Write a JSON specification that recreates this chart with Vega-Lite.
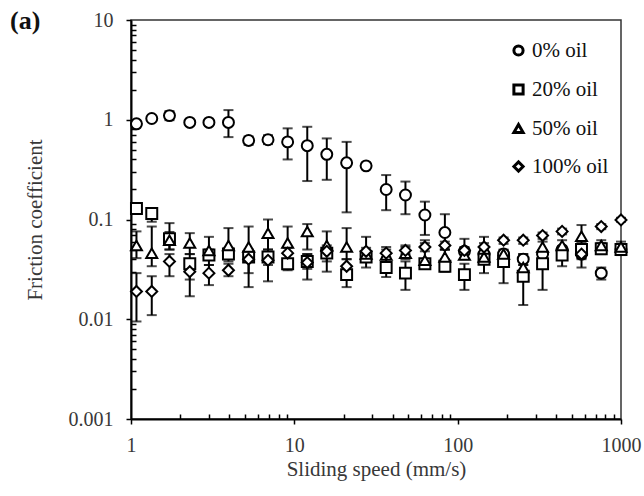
{
  "$schema": "https://vega.github.io/schema/vega-lite/v6.json",
  "width": 490,
  "height": 399,
  "autosize": {"type": "none"},
  "padding": {"left": 131, "top": 20, "right": 23, "bottom": 77},
  "background": "white",
  "config": {"view": {"stroke": "#333", "strokeWidth": 1.5}, "font": "Liberation Serif"},
  "title": {"text": "(a)", "anchor": "start", "frame": "group", "dx": -121, "offset": -24, "fontSize": 26, "fontWeight": "bold", "font": "Liberation Serif", "color": "#111"},
  "data": {"values": [
    {"speed": 1.08, "series": "0% oil", "cof": 0.91, "lo": 0.88, "hi": 0.95},
    {"speed": 1.34, "series": "0% oil", "cof": 1.03, "lo": 1.0, "hi": 1.07},
    {"speed": 1.72, "series": "0% oil", "cof": 1.1, "lo": 0.99, "hi": 1.22},
    {"speed": 2.29, "series": "0% oil", "cof": 0.94, "lo": 0.92, "hi": 0.96},
    {"speed": 3.0, "series": "0% oil", "cof": 0.94, "lo": 0.92, "hi": 0.96},
    {"speed": 3.95, "series": "0% oil", "cof": 0.94, "lo": 0.67, "hi": 1.25},
    {"speed": 5.25, "series": "0% oil", "cof": 0.62, "lo": 0.56, "hi": 0.68},
    {"speed": 6.9, "series": "0% oil", "cof": 0.63, "lo": 0.57, "hi": 0.7},
    {"speed": 9.1, "series": "0% oil", "cof": 0.6, "lo": 0.4, "hi": 0.82},
    {"speed": 12.0, "series": "0% oil", "cof": 0.55, "lo": 0.243, "hi": 0.85},
    {"speed": 15.8, "series": "0% oil", "cof": 0.45, "lo": 0.25, "hi": 0.65},
    {"speed": 20.9, "series": "0% oil", "cof": 0.37, "lo": 0.118, "hi": 0.6},
    {"speed": 27.5, "series": "0% oil", "cof": 0.345, "lo": 0.33, "hi": 0.36},
    {"speed": 36.5, "series": "0% oil", "cof": 0.2, "lo": 0.124, "hi": 0.279},
    {"speed": 47.9, "series": "0% oil", "cof": 0.176, "lo": 0.113, "hi": 0.24},
    {"speed": 63, "series": "0% oil", "cof": 0.111, "lo": 0.07, "hi": 0.151},
    {"speed": 83.5, "series": "0% oil", "cof": 0.074, "lo": 0.05, "hi": 0.113},
    {"speed": 110, "series": "0% oil", "cof": 0.048, "lo": 0.045, "hi": 0.052},
    {"speed": 145, "series": "0% oil", "cof": 0.045, "lo": 0.04, "hi": 0.05},
    {"speed": 191, "series": "0% oil", "cof": 0.045, "lo": 0.041, "hi": 0.049},
    {"speed": 252, "series": "0% oil", "cof": 0.04, "lo": 0.035, "hi": 0.045},
    {"speed": 331, "series": "0% oil", "cof": 0.045, "lo": 0.041, "hi": 0.049},
    {"speed": 436, "series": "0% oil", "cof": 0.05, "lo": 0.046, "hi": 0.054},
    {"speed": 573, "series": "0% oil", "cof": 0.045, "lo": 0.041, "hi": 0.049},
    {"speed": 757, "series": "0% oil", "cof": 0.029, "lo": 0.025, "hi": 0.033},
    {"speed": 1000, "series": "0% oil", "cof": 0.05, "lo": 0.046, "hi": 0.054},
    {"speed": 1.08, "series": "20% oil", "cof": 0.129, "lo": 0.115, "hi": 0.14},
    {"speed": 1.34, "series": "20% oil", "cof": 0.115, "lo": 0.095, "hi": 0.12},
    {"speed": 1.72, "series": "20% oil", "cof": 0.064, "lo": 0.05, "hi": 0.075},
    {"speed": 2.29, "series": "20% oil", "cof": 0.036, "lo": 0.017, "hi": 0.045},
    {"speed": 3.0, "series": "20% oil", "cof": 0.044, "lo": 0.035, "hi": 0.05},
    {"speed": 3.95, "series": "20% oil", "cof": 0.045, "lo": 0.038, "hi": 0.052},
    {"speed": 5.25, "series": "20% oil", "cof": 0.042, "lo": 0.029, "hi": 0.05},
    {"speed": 6.9, "series": "20% oil", "cof": 0.042, "lo": 0.035, "hi": 0.05},
    {"speed": 9.1, "series": "20% oil", "cof": 0.036, "lo": 0.031, "hi": 0.045},
    {"speed": 12.0, "series": "20% oil", "cof": 0.038, "lo": 0.032, "hi": 0.045},
    {"speed": 15.8, "series": "20% oil", "cof": 0.046, "lo": 0.038, "hi": 0.052},
    {"speed": 20.9, "series": "20% oil", "cof": 0.028, "lo": 0.021, "hi": 0.034},
    {"speed": 27.5, "series": "20% oil", "cof": 0.042, "lo": 0.033, "hi": 0.048},
    {"speed": 36.5, "series": "20% oil", "cof": 0.033, "lo": 0.0265, "hi": 0.04},
    {"speed": 47.9, "series": "20% oil", "cof": 0.029, "lo": 0.0197, "hi": 0.038},
    {"speed": 63, "series": "20% oil", "cof": 0.036, "lo": 0.033, "hi": 0.04},
    {"speed": 83.5, "series": "20% oil", "cof": 0.034, "lo": 0.03, "hi": 0.04},
    {"speed": 110, "series": "20% oil", "cof": 0.028, "lo": 0.0197, "hi": 0.036},
    {"speed": 145, "series": "20% oil", "cof": 0.04, "lo": 0.029, "hi": 0.045},
    {"speed": 191, "series": "20% oil", "cof": 0.038, "lo": 0.023, "hi": 0.045},
    {"speed": 252, "series": "20% oil", "cof": 0.027, "lo": 0.0139, "hi": 0.035},
    {"speed": 331, "series": "20% oil", "cof": 0.036, "lo": 0.0197, "hi": 0.045},
    {"speed": 436, "series": "20% oil", "cof": 0.044, "lo": 0.034, "hi": 0.05},
    {"speed": 573, "series": "20% oil", "cof": 0.05, "lo": 0.033, "hi": 0.06},
    {"speed": 757, "series": "20% oil", "cof": 0.051, "lo": 0.045, "hi": 0.058},
    {"speed": 1000, "series": "20% oil", "cof": 0.05, "lo": 0.044, "hi": 0.055},
    {"speed": 1.08, "series": "50% oil", "cof": 0.055, "lo": 0.041, "hi": 0.076},
    {"speed": 1.34, "series": "50% oil", "cof": 0.046, "lo": 0.034, "hi": 0.085},
    {"speed": 1.72, "series": "50% oil", "cof": 0.062, "lo": 0.05, "hi": 0.092},
    {"speed": 2.29, "series": "50% oil", "cof": 0.058, "lo": 0.045, "hi": 0.073},
    {"speed": 3.0, "series": "50% oil", "cof": 0.049, "lo": 0.04, "hi": 0.067},
    {"speed": 3.95, "series": "50% oil", "cof": 0.055, "lo": 0.045, "hi": 0.082},
    {"speed": 5.25, "series": "50% oil", "cof": 0.053, "lo": 0.04, "hi": 0.085},
    {"speed": 6.9, "series": "50% oil", "cof": 0.073, "lo": 0.05, "hi": 0.1},
    {"speed": 9.1, "series": "50% oil", "cof": 0.058, "lo": 0.045, "hi": 0.085},
    {"speed": 12.0, "series": "50% oil", "cof": 0.076, "lo": 0.05, "hi": 0.09},
    {"speed": 15.8, "series": "50% oil", "cof": 0.055, "lo": 0.045, "hi": 0.076},
    {"speed": 20.9, "series": "50% oil", "cof": 0.053, "lo": 0.04, "hi": 0.082},
    {"speed": 27.5, "series": "50% oil", "cof": 0.045, "lo": 0.04, "hi": 0.067},
    {"speed": 36.5, "series": "50% oil", "cof": 0.044, "lo": 0.04, "hi": 0.053},
    {"speed": 47.9, "series": "50% oil", "cof": 0.046, "lo": 0.04, "hi": 0.055},
    {"speed": 63, "series": "50% oil", "cof": 0.039, "lo": 0.036, "hi": 0.062},
    {"speed": 83.5, "series": "50% oil", "cof": 0.042, "lo": 0.037, "hi": 0.05},
    {"speed": 110, "series": "50% oil", "cof": 0.044, "lo": 0.04, "hi": 0.064},
    {"speed": 145, "series": "50% oil", "cof": 0.042, "lo": 0.038, "hi": 0.067},
    {"speed": 191, "series": "50% oil", "cof": 0.045, "lo": 0.04, "hi": 0.05},
    {"speed": 252, "series": "50% oil", "cof": 0.033, "lo": 0.03, "hi": 0.045},
    {"speed": 331, "series": "50% oil", "cof": 0.053, "lo": 0.045, "hi": 0.06},
    {"speed": 436, "series": "50% oil", "cof": 0.055, "lo": 0.05, "hi": 0.062},
    {"speed": 573, "series": "50% oil", "cof": 0.068, "lo": 0.06, "hi": 0.088},
    {"speed": 757, "series": "50% oil", "cof": 0.055, "lo": 0.048, "hi": 0.062},
    {"speed": 1000, "series": "50% oil", "cof": 0.053, "lo": 0.047, "hi": 0.06},
    {"speed": 1.08, "series": "100% oil", "cof": 0.019, "lo": 0.0095, "hi": 0.029},
    {"speed": 1.34, "series": "100% oil", "cof": 0.019, "lo": 0.011, "hi": 0.027},
    {"speed": 1.72, "series": "100% oil", "cof": 0.038, "lo": 0.027, "hi": 0.045},
    {"speed": 2.29, "series": "100% oil", "cof": 0.03, "lo": 0.025, "hi": 0.035},
    {"speed": 3.0, "series": "100% oil", "cof": 0.029, "lo": 0.022, "hi": 0.035},
    {"speed": 3.95, "series": "100% oil", "cof": 0.031, "lo": 0.027, "hi": 0.036},
    {"speed": 5.25, "series": "100% oil", "cof": 0.04, "lo": 0.021, "hi": 0.045},
    {"speed": 6.9, "series": "100% oil", "cof": 0.039, "lo": 0.024, "hi": 0.045},
    {"speed": 9.1, "series": "100% oil", "cof": 0.046, "lo": 0.04, "hi": 0.052},
    {"speed": 12.0, "series": "100% oil", "cof": 0.037, "lo": 0.025, "hi": 0.045},
    {"speed": 15.8, "series": "100% oil", "cof": 0.048, "lo": 0.03, "hi": 0.055},
    {"speed": 20.9, "series": "100% oil", "cof": 0.034, "lo": 0.029, "hi": 0.04},
    {"speed": 27.5, "series": "100% oil", "cof": 0.048, "lo": 0.044, "hi": 0.052},
    {"speed": 36.5, "series": "100% oil", "cof": 0.046, "lo": 0.042, "hi": 0.05},
    {"speed": 47.9, "series": "100% oil", "cof": 0.049, "lo": 0.045, "hi": 0.053},
    {"speed": 63, "series": "100% oil", "cof": 0.053, "lo": 0.048, "hi": 0.058},
    {"speed": 83.5, "series": "100% oil", "cof": 0.055, "lo": 0.05, "hi": 0.06},
    {"speed": 110, "series": "100% oil", "cof": 0.049, "lo": 0.045, "hi": 0.053},
    {"speed": 145, "series": "100% oil", "cof": 0.053, "lo": 0.048, "hi": 0.058},
    {"speed": 191, "series": "100% oil", "cof": 0.062, "lo": 0.057, "hi": 0.066},
    {"speed": 252, "series": "100% oil", "cof": 0.062, "lo": 0.057, "hi": 0.066},
    {"speed": 331, "series": "100% oil", "cof": 0.069, "lo": 0.064, "hi": 0.074},
    {"speed": 436, "series": "100% oil", "cof": 0.076, "lo": 0.071, "hi": 0.081},
    {"speed": 573, "series": "100% oil", "cof": 0.045, "lo": 0.04, "hi": 0.05},
    {"speed": 757, "series": "100% oil", "cof": 0.085, "lo": 0.08, "hi": 0.09},
    {"speed": 1000, "series": "100% oil", "cof": 0.099, "lo": 0.095, "hi": 0.104}
  ]},
  "resolve": {"axis": {"x": "independent", "y": "independent"}},
  "layer": [
    {
      "mark": {"type": "rule", "color": "black", "strokeWidth": 2},
      "encoding": {
        "x": {"field": "speed", "type": "quantitative", "scale": {"type": "log", "domain": [1, 1000], "nice": false},
          "axis": {"orient": "bottom", "title": null, "labels": false, "domain": false, "grid": false,
            "values": [2,3,4,5,6,7,8,9,20,30,40,50,60,70,80,90,200,300,400,500,600,700,800,900],
            "tickSize": -5, "tickColor": "black", "tickWidth": 1.5}},
        "y": {"field": "lo", "type": "quantitative", "scale": {"type": "log", "domain": [0.001, 10], "nice": false},
          "axis": {"orient": "left", "title": null, "labels": false, "domain": false, "grid": false,
            "values": [0.002,0.003,0.004,0.005,0.006,0.007,0.008,0.009,0.02,0.03,0.04,0.05,0.06,0.07,0.08,0.09,0.2,0.3,0.4,0.5,0.6,0.7,0.8,0.9,2,3,4,5,6,7,8,9],
            "tickSize": -5, "tickColor": "black", "tickWidth": 1.5}},
        "y2": {"field": "hi"}
      }
    },
    {
      "mark": {"type": "tick", "orient": "horizontal", "color": "black", "size": 10, "thickness": 2},
      "encoding": {
        "x": {"field": "speed", "type": "quantitative", "axis": null},
        "y": {"field": "lo", "type": "quantitative", "axis": null}
      }
    },
    {
      "mark": {"type": "tick", "orient": "horizontal", "color": "black", "size": 10, "thickness": 2},
      "encoding": {
        "x": {"field": "speed", "type": "quantitative", "axis": null},
        "y": {"field": "hi", "type": "quantitative", "axis": null}
      }
    },
    {
      "mark": {"type": "point", "filled": false, "color": "black", "fill": "white", "fillOpacity": 1, "strokeWidth": 2, "size": 120, "opacity": 1},
      "encoding": {
        "x": {"field": "speed", "type": "quantitative",
          "axis": {"orient": "bottom", "title": "Sliding speed (mm/s)",
            "values": [1, 10, 100, 1000],
            "format": "~g",
            "tickSize": 5, "tickColor": "black", "tickWidth": 1.5,
            "domainColor": "black", "domainWidth": 2,
            "labelFont": "Liberation Serif", "labelFontSize": 20, "labelColor": "#383838", "labelPadding": 11,
            "labelFlush": false, "labelOverlap": false,
            "titleFont": "Liberation Serif", "titleFontSize": 21, "titleFontWeight": "normal", "titleColor": "#383838", "titlePadding": 3,
            "grid": false}
        },
        "y": {"field": "cof", "type": "quantitative",
          "axis": {"orient": "left", "title": "Friction coefficient",
            "values": [0.001, 0.01, 0.1, 1, 10],
            "format": "~g",
            "tickSize": 5, "tickColor": "black", "tickWidth": 1.5,
            "domainColor": "black", "domainWidth": 2,
            "labelFont": "Liberation Serif", "labelFontSize": 20, "labelColor": "#383838", "labelPadding": 13,
            "labelFlush": false, "labelOverlap": false,
            "titleFont": "Liberation Serif", "titleFontSize": 21, "titleFontWeight": "normal", "titleColor": "#383838", "titlePadding": 23,
            "grid": false}
        },
        "shape": {"field": "series", "type": "nominal",
          "scale": {"domain": ["0% oil", "20% oil", "50% oil", "100% oil"], "range": ["circle", "square", "triangle-up", "diamond"]},
          "legend": {"orient": "none", "legendX": 377, "legendY": 20, "title": null,
            "labelFont": "Liberation Serif", "labelFontSize": 21, "labelColor": "#111", "labelOffset": 3,
            "symbolSize": 85, "symbolStrokeWidth": 3,
            "rowPadding": 16}
        }
      }
    }
  ]
}
